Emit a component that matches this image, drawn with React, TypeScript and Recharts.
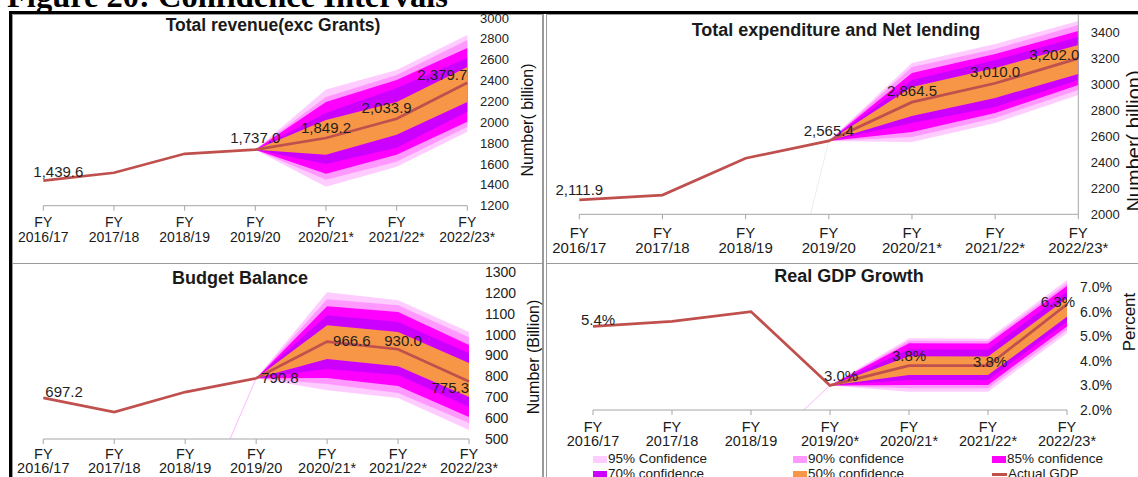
import React from 'react';
import { ComposedChart, Area, Line, XAxis, YAxis, LabelList } from 'recharts';

// ---- data ----
const years = ['2016/17', '2017/18', '2018/19', '2019/20', '2020/21*', '2021/22*', '2022/23*'];
const gdpYears = ['2016/17', '2017/18', '2018/19', '2019/20*', '2020/21*', '2021/22*', '2022/23*'];

const revenue = [1439.6, 1516, 1698, 1737.0, 1849.2, 2033.9, 2379.7];
const expenditure = [2111.9, 2148, 2432, 2565.4, 2864.5, 3010.0, 3202.0];
const balance = [697.2, 629, 725, 790.8, 966.6, 930.0, 775.3];
const gdp = [5.4, 5.6, 6.0, 3.0, 3.8, 3.8, 6.3];

// fan bands [low, high] for 2019/20 .. 2022/23
const revenue95 = [[1737, 1737], [1382, 2314], [1573, 2501], [1908, 2836]];
const revenue90 = [[1737, 1737], [1449, 2243], [1621, 2453], [1956, 2789]];
const revenue85 = [[1737, 1737], [1506, 2195], [1688, 2405], [2004, 2712]];
const revenue70 = [[1737, 1737], [1600, 2090], [1755, 2329], [2100, 2616]];
const revenue50 = [[1737, 1737], [1688, 2023], [1880, 2195], [2195, 2530]];

const expend95 = [[2565.4, 2565.4], [2557, 3167], [2704, 3313], [2919, 3490]];
const expend90 = [[2565.4, 2565.4], [2596, 3136], [2742, 3275], [2958, 3459]];
const expend85 = [[2565.4, 2565.4], [2635, 3090], [2781, 3236], [2997, 3413]];
const expend70 = [[2565.4, 2565.4], [2704, 3036], [2827, 3190], [3036, 3367]];
const expend50 = [[2565.4, 2565.4], [2758, 2982], [2897, 3128], [3082, 3305]];

const balance95 = [[790.8, 790.8], [734, 1203], [696, 1165], [543, 1012]];
const balance90 = [[790.8, 790.8], [763, 1170], [720, 1141], [577, 988]];
const balance85 = [[790.8, 790.8], [792, 1136], [754, 1108], [605, 950]];
const balance70 = [[790.8, 790.8], [835, 1093], [806, 1060], [653, 911]];
const balance50 = [[790.8, 790.8], [883, 1045], [849, 1012], [701, 864]];

const gdp95 = [[3.0, 3.0], [2.74, 4.92], [2.74, 4.9], [5.12, 7.28]];
const gdp90 = [[3.0, 3.0], [2.88, 4.82], [2.88, 4.8], [5.25, 7.15]];
const gdp85 = [[3.0, 3.0], [3.02, 4.71], [3.02, 4.7], [5.39, 7.04]];
const gdp70 = [[3.0, 3.0], [3.22, 4.47], [3.22, 4.45], [5.59, 6.81]];
const gdp50 = [[3.0, 3.0], [3.42, 4.19], [3.42, 4.17], [5.79, 6.54]];

const bandNames = ['95% Confidence', '90% confidence', '85% confidence', '70% confidence', '50% confidence'];
const bandColors = ['#ffccff', '#ff99ff', '#ff00ff', '#cc00ff', '#f79646'];
const bandKeys = ['b95', 'b90', 'b85', 'b70', 'b50'];
const lineColor = '#c0504d';
const axisGrey = '#a6a6a6';
const fanStart = 3;
const idx = [0, 1, 2, 3, 4, 5, 6];

function buildRows(actual: number[], bands: number[][][], stub: boolean) {
  return actual.map((v, i) => {
    const row: any = { i, actual: v };
    bands.forEach((b, j) => {
      row[bandKeys[j]] = i >= fanStart ? b[i - fanStart] : null;
    });
    // the 95% series runs up from zero at 2018/19 in the source (thin edge)
    row.stub = stub ? (i === fanStart - 1 ? 0 : i === fanStart ? v : null) : null;
    return row;
  });
}

const fmtNum = (v: number) => v.toLocaleString('en-US', { minimumFractionDigits: 1, maximumFractionDigits: 1 });
const fmtPct = (v: number) => `${v.toFixed(1)}%`;

// label placement: [anchor, dx, dy]
type Spot = [string, number, number] | null;

const XTick = (props: any) => {
  const { x, y, payload, labels, fs, d1, d2 } = props;
  return (
    <g>
      <text x={x} y={y + d1} textAnchor="middle" fontSize={fs} fill="#1a1a1a">FY</text>
      <text x={x} y={y + d2} textAnchor="middle" fontSize={fs} fill="#1a1a1a">{labels[payload.value]}</text>
    </g>
  );
};

function FanChart({ cfg }: { cfg: any }) {
  const rows = buildRows(cfg.actual, cfg.bands, !!cfg.stubColor);
  return (
    <ComposedChart width={cfg.w} height={cfg.h} data={rows} margin={cfg.margin}>
      <XAxis
        type="number"
        dataKey="i"
        domain={[0, 6]}
        ticks={idx}
        interval={0}
        height={cfg.xh}
        stroke={axisGrey}
        tickSize={5}
        tickMargin={0}
        tick={(p: any) => <XTick {...p} labels={cfg.labels} fs={cfg.xFs} d1={cfg.xd[0]} d2={cfg.xd[1]} />}
      />
      <YAxis
        orientation="right"
        type="number"
        domain={cfg.domain}
        ticks={cfg.yTicks}
        interval={0}
        allowDataOverflow
        width={cfg.yw}
        axisLine={cfg.yLine ? { stroke: axisGrey } : false}
        tickLine={false}
        tickSize={6}
        tickMargin={cfg.yGap}
        tick={{ fontSize: cfg.yFs, fill: '#222' }}
        tickFormatter={cfg.yFmt}
      />
      {bandKeys.map((k, j) => (
        <Area
          key={k}
          dataKey={k}
          type="linear"
          stroke="none"
          fill={bandColors[j]}
          fillOpacity={1}
          dot={false}
          activeDot={false}
          isAnimationActive={false}
        />
      ))}
      {cfg.stubColor && (
        <Line dataKey="stub" type="linear" stroke={cfg.stubColor} strokeWidth={1} dot={false} isAnimationActive={false} />
      )}
      <Line dataKey="actual" type="linear" stroke={lineColor} strokeWidth={2.75} dot={false} isAnimationActive={false}>
        <LabelList
          dataKey="actual"
          content={(p: any) => {
            const s: Spot = cfg.spots[p.index];
            if (!s) return null;
            return (
              <text x={p.x + s[1]} y={p.y + s[2]} textAnchor={s[0]} fontSize={15} fill="#1f1f1f">
                {cfg.fmt(p.value)}
              </text>
            );
          }}
        />
      </Line>
    </ComposedChart>
  );
}

const panels = [
  {
    clip: { left: 13, top: 12, width: 528, height: 250 },
    at: { left: 0, top: -12 },
    w: 528, h: 262, xh: 40, yw: 60,
    margin: { top: 18, right: 13.7, bottom: 16.3, left: 30.3 },
    actual: revenue, bands: [revenue95, revenue90, revenue85, revenue70, revenue50],
    labels: years, domain: [1200, 3000], yTicks: [1200, 1400, 1600, 1800, 2000, 2200, 2400, 2600, 2800, 3000],
    yFmt: (v: number) => `${v}`, yFs: 13, yGap: 6.7, yLine: false, xFs: 14, xd: [16.5, 31],
    fmt: fmtNum,
    spots: [['start', -10, -4], null, null, ['middle', 0, -7], ['middle', 0, -5], ['middle', -10, -6], ['end', 0, -3]],
    title: 'Total revenue(exc Grants)', titleAt: [273, 26], titleFs: 17.5,
    yLabel: 'Number( billion)', yLabelAt: [528, 120], yLabelFs: 16,
  },
  {
    clip: { left: 548, top: 15, width: 590, height: 247 },
    at: { left: 0, top: -15 },
    w: 590, h: 262, xh: 40, yw: 50,
    margin: { top: 6.76, right: 9.7, bottom: 7.7, left: 31.3 },
    actual: expenditure, bands: [expend95, expend90, expend85, expend70, expend50],
    labels: years, domain: [2000, 3600], yTicks: [2000, 2200, 2400, 2600, 2800, 3000, 3200, 3400],
    yFmt: (v: number) => `${v}`, yFs: 13, yGap: 6.4, yLine: true, xFs: 15, xd: [18.5, 33.5],
    fmt: fmtNum, stubColor: '#ececec',
    spots: [['middle', 0, -5], null, null, ['middle', 0, -5], ['middle', 0, -6], ['middle', 0, -6], ['end', 1, 2]],
    title: 'Total expenditure and Net lending', titleAt: [836, 30], titleFs: 18,
    yLabel: 'Number( billion)', yLabelAt: [1134, 141], yLabelFs: 20,
  },
  {
    clip: { left: 13, top: 264, width: 528, height: 213 },
    at: { left: 0, top: -14 },
    w: 528, h: 227, xh: 35, yw: 60,
    margin: { top: 22, right: 12, bottom: 3, left: 30.3 },
    actual: balance, bands: [balance95, balance90, balance85, balance70, balance50],
    labels: years, domain: [500, 1300], yTicks: [500, 600, 700, 800, 900, 1000, 1100, 1200, 1300],
    yFmt: (v: number) => `${v}`, yFs: 14, yGap: 10, yLine: false, xFs: 14.5, xd: [15, 29],
    fmt: fmtNum, stubColor: '#ffb8ff',
    spots: [['start', 2, -1], null, null, ['start', 5, 5], ['start', 6, 4], ['middle', 5, -3], ['end', 0, 11]],
    title: 'Budget Balance', titleAt: [240, 277.5], titleFs: 18,
    yLabel: 'Number (Billion)', yLabelAt: [534, 357], yLabelFs: 16,
  },
  {
    clip: { left: 548, top: 264, width: 590, height: 213 },
    at: { left: 0, top: -14 },
    w: 590, h: 227, xh: 40, yw: 50,
    margin: { top: 12.4, right: 21, bottom: 27, left: 45 },
    actual: gdp, bands: [gdp95, gdp90, gdp85, gdp70, gdp50],
    labels: gdpYears, domain: [2, 8], yTicks: [2, 3, 4, 5, 6, 7],
    yFmt: fmtPct, yFs: 14, yGap: 7, yLine: false, xFs: 14.5, xd: [17, 31],
    fmt: fmtPct, stubColor: '#ffb8ff',
    spots: [['middle', 5, -1], null, null, ['start', -6, -4], ['middle', 0, -5], ['middle', 2, 1], ['end', 8, 3]],
    title: 'Real GDP Growth', titleAt: [849, 275.5], titleFs: 18,
    yLabel: 'Percent', yLabelAt: [1128.5, 322], yLabelFs: 17,
  },
];

const legendCols = [593, 793, 992];
const legendRows = [459, 474];

export default function App() {
  const grey = '#9a9a9a';
  return (
    <div
      style={{
        position: 'absolute', left: 0, top: 0, width: 1138, height: 477, overflow: 'hidden',
        background: '#fff', fontFamily: '"Liberation Sans", Arial, sans-serif', color: '#1a1a1a',
      }}
    >
      <div
        style={{
          position: 'absolute', left: 7, top: -20, fontFamily: '"Liberation Serif", "Times New Roman", serif',
          fontWeight: 'bold', fontSize: 32.5, lineHeight: '32px', whiteSpace: 'nowrap', color: '#000',
        }}
      >
        Figure 20: Confidence Intervals
      </div>

      {/* outer frame and cell borders */}
      <div style={{ position: 'absolute', left: 9, top: 11, width: 1200, height: 600, border: '3px solid #000' }} />
      <div style={{ position: 'absolute', left: 12, top: 14, width: 529, height: 248, borderLeft: `1px solid ${grey}`, borderTop: `1px solid ${grey}`, borderRight: `2px solid ${grey}`, borderBottom: `1px solid ${grey}` }} />
      <div style={{ position: 'absolute', left: 12, top: 263, width: 529, height: 220, borderLeft: `1px solid ${grey}`, borderRight: `2px solid ${grey}` }} />
      <div style={{ position: 'absolute', left: 546, top: 14, width: 600, height: 248, borderLeft: `1.5px solid ${grey}`, borderTop: `1px solid ${grey}`, borderBottom: `1px solid ${grey}` }} />
      <div style={{ position: 'absolute', left: 546, top: 263, width: 600, height: 220, borderLeft: `1.5px solid ${grey}` }} />

      {panels.map((p, k) => (
        <div key={k} style={{ position: 'absolute', ...p.clip, overflow: 'hidden' }}>
          <div style={{ position: 'absolute', ...p.at }}>
            <FanChart cfg={p} />
          </div>
        </div>
      ))}

      {panels.map((p, k) => (
        <React.Fragment key={`t${k}`}>
          <div
            style={{
              position: 'absolute', left: p.titleAt[0], top: p.titleAt[1], transform: 'translate(-50%, -50%)',
              fontWeight: 'bold', fontSize: p.titleFs, lineHeight: 1, whiteSpace: 'nowrap', color: '#1a1a1a',
            }}
          >
            {p.title}
          </div>
          <div
            style={{
              position: 'absolute', left: p.yLabelAt[0], top: p.yLabelAt[1], transform: 'translate(-50%, -50%) rotate(-90deg)',
              fontSize: p.yLabelFs, lineHeight: 1, whiteSpace: 'nowrap', color: '#111',
            }}
          >
            {p.yLabel}
          </div>
        </React.Fragment>
      ))}

      {/* legend */}
      {[...bandNames, 'Actual GDP'].map((name, j) => {
        const x = legendCols[j % 3];
        const y = legendRows[Math.floor(j / 3)];
        const isLine = j === bandNames.length;
        return (
          <div key={name} style={{ position: 'absolute', left: x, top: y - 8, height: 16, display: 'flex', alignItems: 'center', whiteSpace: 'nowrap' }}>
            {isLine ? (
              <span style={{ display: 'inline-block', width: 15, height: 3, background: lineColor, marginRight: 1 }} />
            ) : (
              <span style={{ display: 'inline-block', width: 14, height: 7, background: bandColors[j], marginRight: 1 }} />
            )}
            <span style={{ fontSize: 13.5, lineHeight: '16px', color: '#1a1a1a' }}>{name}</span>
          </div>
        );
      })}
    </div>
  );
}
